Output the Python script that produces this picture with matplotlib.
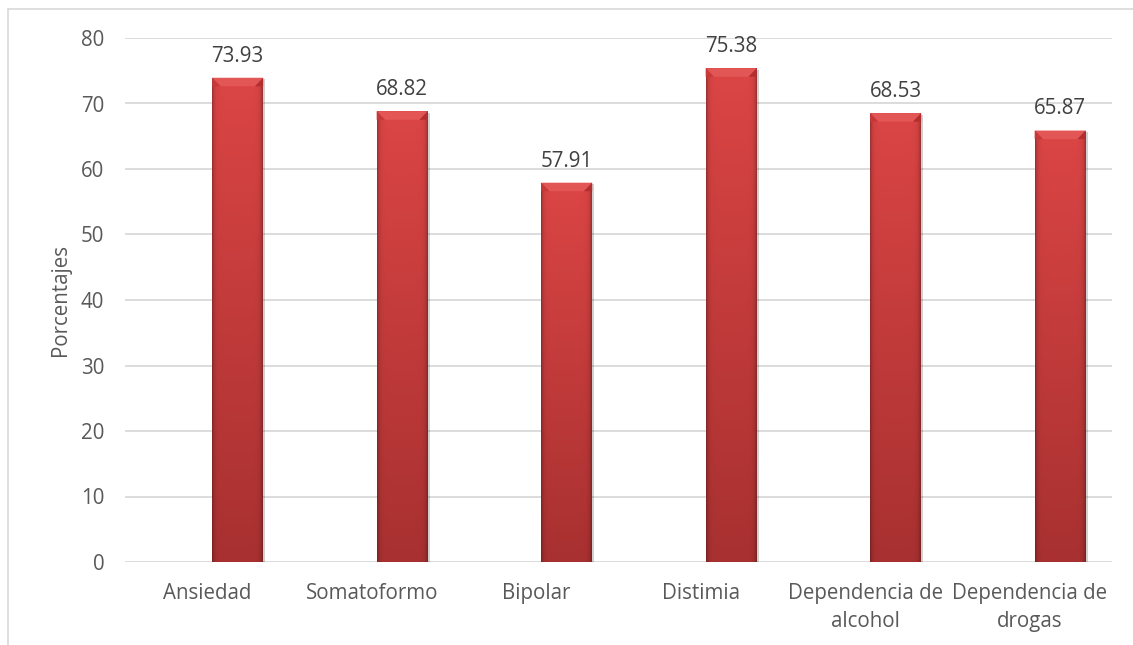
import numpy as np
import matplotlib.pyplot as plt
from matplotlib.patches import Polygon, Rectangle
from matplotlib.lines import Line2D

plt.rcParams['font.family'] = ['Open Sans', 'DejaVu Sans']

categorias = ["Ansiedad", "Somatoformo", "Bipolar", "Distimia",
              "Dependencia de\nalcohol", "Dependencia de\ndrogas"]
porcentajes = [73.93, 68.82, 57.91, 75.38, 68.53, 65.87]
yticks = [0, 10, 20, 30, 40, 50, 60, 70, 80]

txt = '#595959'
grid = '#d9d9d9'
fs = 14.8

fig = plt.figure(figsize=(11.33, 6.45), dpi=100)
ax = fig.add_axes([125 / 1133, 1 - 562 / 645, 987 / 1133, 524 / 645])

# outer chart frame (left and top edges only show)
fig.add_artist(Line2D([8 / 1133, 8 / 1133], [0, 1 - 9 / 645], transform=fig.transFigure,
                      color=grid, lw=1.2))
fig.add_artist(Line2D([8 / 1133, 1], [1 - 9 / 645, 1 - 9 / 645], transform=fig.transFigure,
                      color=grid, lw=1.2))

x = np.arange(len(categorias))
w = 0.31
off = 0.185

ax.set_xlim(-0.5, len(categorias) - 0.5)
ax.set_ylim(0, 80)
ax.set_yticks(yticks)
ax.yaxis.grid(True, color=grid, lw=1.3)
ax.set_axisbelow(True)
for s in ax.spines.values():
    s.set_visible(False)
ax.tick_params(axis='both', length=0, labelsize=fs, colors=txt)
ax.tick_params(axis='y', pad=15)
ax.tick_params(axis='x', pad=15)
ax.set_xticks(x)
ax.set_xticklabels(categorias, linespacing=1.45)
ax.set_ylabel("Porcentajes", fontsize=fs, color=txt, labelpad=7)

# red gradient: lighter at top, darker at bottom, darker at side edges
ny, nx = 200, 60
vert = np.linspace(0, 1, ny)[:, None]
top = np.array([0.86, 0.27, 0.27])
bot = np.array([0.66, 0.19, 0.19])
col = bot + (top - bot) * vert[..., None]
u = np.linspace(0, 1, nx)
edge = 1 - 0.28 * (np.exp(-u / 0.04) + np.exp(-(1 - u) / 0.04))
img = np.clip(col * edge[None, :, None], 0, 1)

for xi, v in zip(x, porcentajes):
    x0 = xi + off - w / 2
    x1 = xi + off + w / 2
    # soft shadow
    sh = Rectangle((x0 + 0.012, 0), w, v - 0.25, facecolor='#000000', alpha=0.18,
                   edgecolor='none', zorder=2)
    ax.add_patch(sh)
    bar = ax.bar(xi + off, v, w, facecolor='none', edgecolor='none', zorder=3)[0]
    im = ax.imshow(img, extent=[x0, x1, 0, v], origin='lower', aspect='auto', zorder=3)
    im.set_clip_path(bar)
    # bevel at the top
    dx, dy = 0.05, 1.3
    ax.add_patch(Polygon([(x0, v), (x1, v), (x1 - dx, v - dy), (x0 + dx, v - dy)],
                         closed=True, facecolor='#e35656', edgecolor='none', zorder=4))
    ax.add_patch(Polygon([(x0, v), (x0 + dx, v - dy), (x0, v - dy)],
                         closed=True, facecolor='#c93838', edgecolor='none', zorder=4))
    ax.add_patch(Polygon([(x1, v), (x1 - dx, v - dy), (x1, v - dy)],
                         closed=True, facecolor='#b32e2e', edgecolor='none', zorder=4))
    ax.annotate(f"{v:.2f}", (xi + off, v), xytext=(0, 8), textcoords='offset points',
                ha='center', va='bottom', fontsize=fs, color='#404040', zorder=5)

ax.set_xlim(-0.5, len(categorias) - 0.5)
ax.set_ylim(0, 80)

fig.savefig("out.png", dpi=100, facecolor='white')
